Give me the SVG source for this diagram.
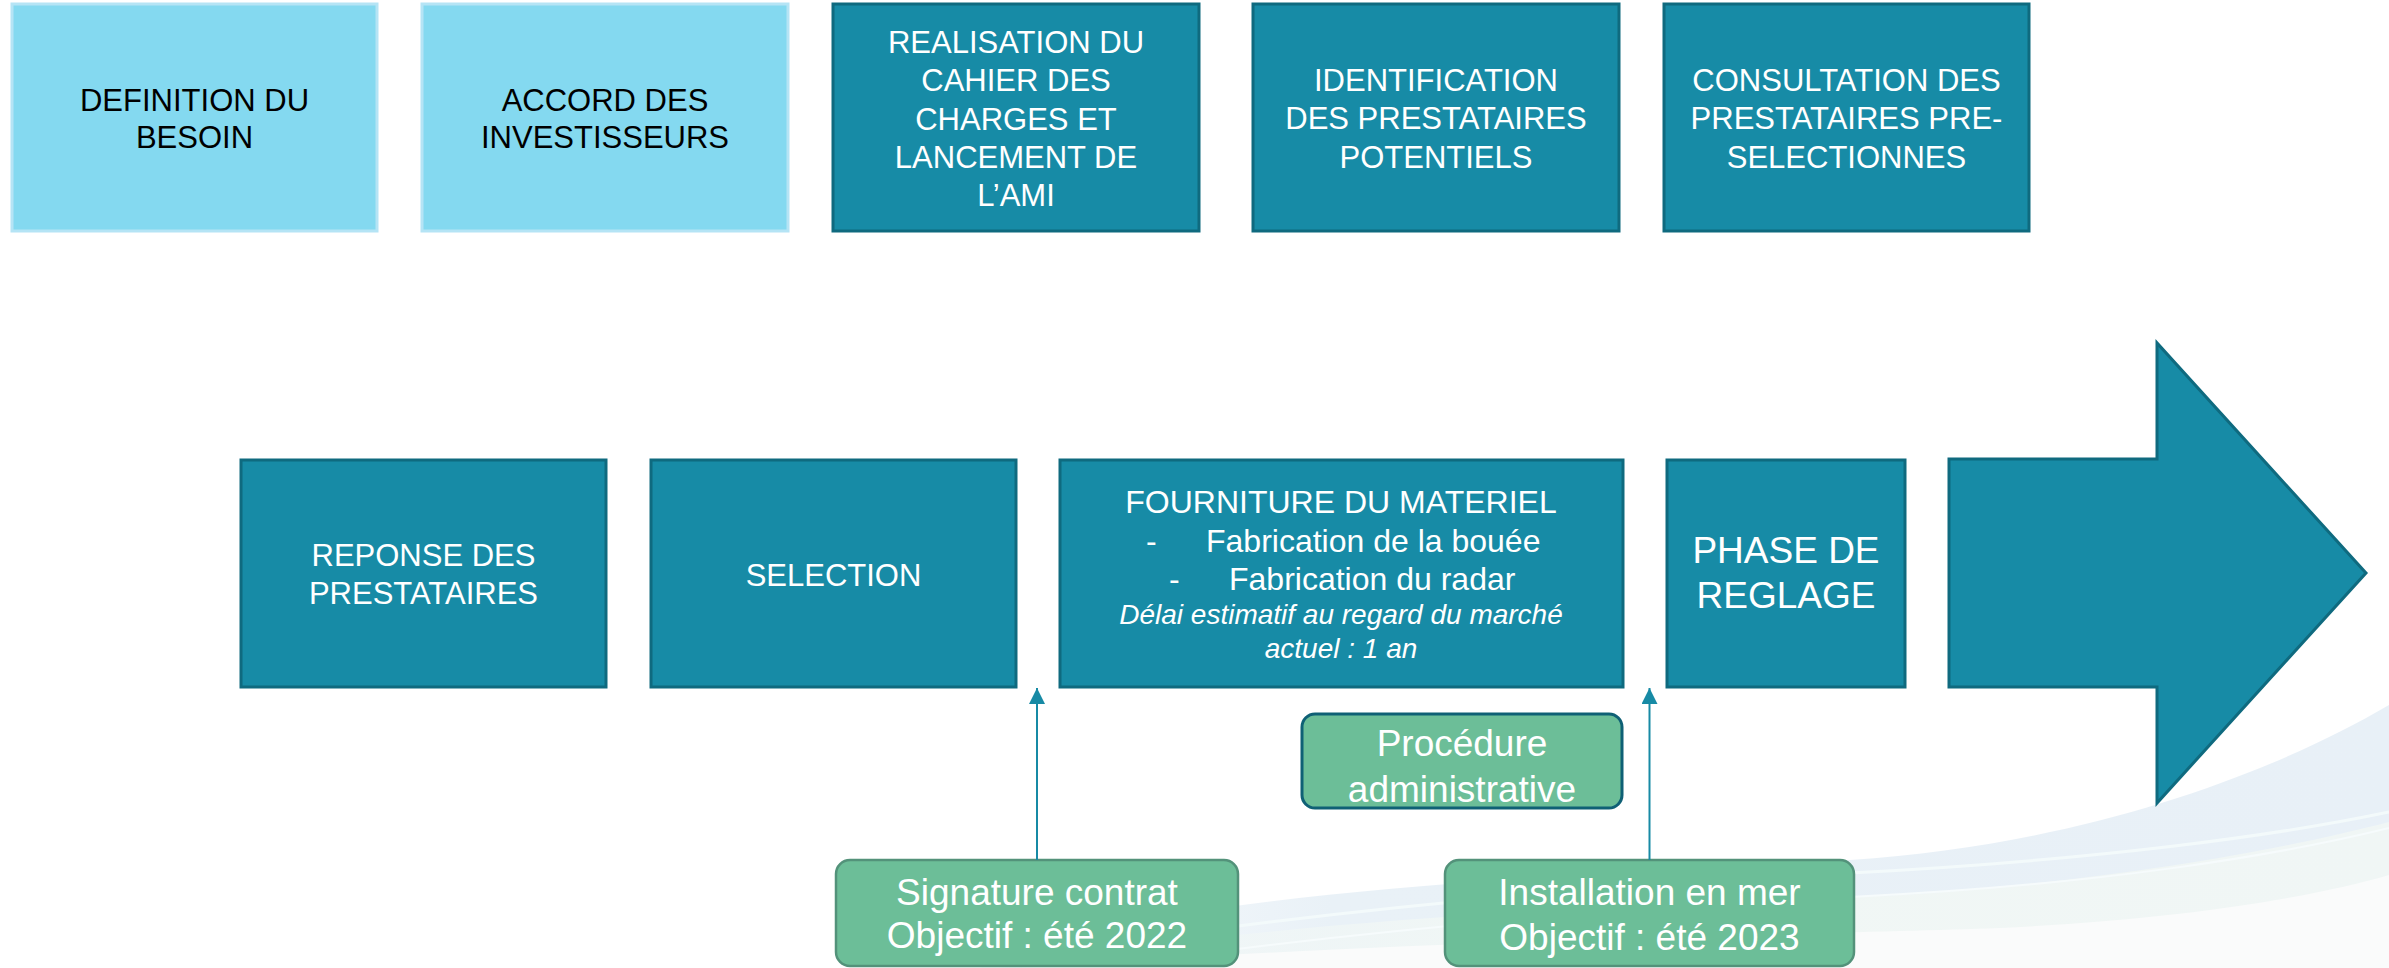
<svg xmlns="http://www.w3.org/2000/svg" width="2389" height="968" viewBox="0 0 2389 968">
  <defs>
    <linearGradient id="swooshGrad" x1="0" y1="0" x2="1" y2="0">
      <stop offset="0" stop-color="#E9F1F7" stop-opacity="0.2"/>
      <stop offset="0.25" stop-color="#E9F1F7" stop-opacity="1"/>
      <stop offset="1" stop-color="#E8F0F7"/>
    </linearGradient>
    <linearGradient id="lowGrad" x1="0" y1="0" x2="1" y2="0">
      <stop offset="0" stop-color="#F1F7F6" stop-opacity="0.3"/>
      <stop offset="0.4" stop-color="#F1F7F5"/>
      <stop offset="1" stop-color="#F0F6F5"/>
    </linearGradient>
    <marker id="arrowHead" viewBox="0 0 16 16" refX="16" refY="8" markerWidth="16" markerHeight="16" markerUnits="userSpaceOnUse" orient="auto">
      <path d="M0,0 L16,8 L0,16 z" fill="#178AA5"/>
    </marker>
    <style>
      .light { fill: #84D9F0; stroke: #B5E4F5; stroke-width: 3; }
      .dark { fill: #178BA6; stroke: #0F6A7F; stroke-width: 3; }
      .green { fill: #6CBE98; stroke: #53927A; stroke-width: 2.5; }
      .greenDark { fill: #6CBE98; stroke: #0F6075; stroke-width: 3; }
      text { font-family: "Liberation Sans", Arial, sans-serif; text-anchor: middle; }
      .tb { fill: #000000; font-size: 31px; }
      .tw { fill: #FFFFFF; font-size: 31px; }
      .tbig { fill: #FFFFFF; font-size: 37px; }
      .tf { fill: #FFFFFF; font-size: 32px; }
      .ti { fill: #FFFFFF; font-size: 28px; font-style: italic; }
      .tg { fill: #FFFFFF; font-size: 37px; }
      .conn { stroke: #178AA5; stroke-width: 2; fill: none; }
    </style>
  </defs>

  <rect x="0" y="0" width="2389" height="968" fill="#FFFFFF"/>

  <!-- background swoosh -->
  <g id="background">
    <path d="M980,968 C1120,900 1450,880 1850,860 C2080,845 2270,775 2389,705 L2389,968 Z" fill="url(#swooshGrad)"/>
    <path d="M1000,968 C1300,915 1650,905 1900,895 C2120,880 2280,850 2389,822 L2389,968 Z" fill="url(#lowGrad)"/>
    <path d="M1020,968 C1400,940 1800,935 2000,928 C2200,918 2320,895 2389,875 L2389,968 Z" fill="#FAFBFB"/>
    <path d="M1100,945 C1400,900 1700,880 1850,873 C2100,860 2280,835 2389,812" fill="none" stroke="#F3FAFB" stroke-width="3"/>
    <path d="M1150,960 C1450,920 1700,905 1850,897 C2100,885 2280,855 2389,828" fill="none" stroke="#F6FBFC" stroke-width="2"/>
  </g>

  <!-- top row -->
  <g id="definition-besoin">
    <rect class="light" x="12" y="4" width="365" height="227"/>
    <text class="tb" x="194.5" y="111">DEFINITION DU</text>
    <text class="tb" x="194.5" y="148">BESOIN</text>
  </g>
  <g id="accord-investisseurs">
    <rect class="light" x="422" y="4" width="366" height="227"/>
    <text class="tb" x="605" y="111">ACCORD DES</text>
    <text class="tb" x="605" y="148">INVESTISSEURS</text>
  </g>
  <g id="realisation-cahier">
    <rect class="dark" x="833" y="4" width="366" height="227"/>
    <text class="tw" x="1016" y="53">REALISATION DU</text>
    <text class="tw" x="1016" y="91">CAHIER DES</text>
    <text class="tw" x="1016" y="130">CHARGES ET</text>
    <text class="tw" x="1016" y="168">LANCEMENT DE</text>
    <text class="tw" x="1016" y="206">L’AMI</text>
  </g>
  <g id="identification-prestataires">
    <rect class="dark" x="1253" y="4" width="366" height="227"/>
    <text class="tw" x="1436" y="91">IDENTIFICATION</text>
    <text class="tw" x="1436" y="129">DES PRESTATAIRES</text>
    <text class="tw" x="1436" y="168">POTENTIELS</text>
  </g>
  <g id="consultation-prestataires">
    <rect class="dark" x="1664" y="4" width="365" height="227"/>
    <text class="tw" x="1846.5" y="91">CONSULTATION DES</text>
    <text class="tw" x="1846.5" y="129">PRESTATAIRES PRE-</text>
    <text class="tw" x="1846.5" y="168">SELECTIONNES</text>
  </g>

  <!-- bottom row -->
  <g id="reponse-prestataires">
    <rect class="dark" x="241" y="460" width="365" height="227"/>
    <text class="tw" x="423.5" y="566">REPONSE DES</text>
    <text class="tw" x="423.5" y="604">PRESTATAIRES</text>
  </g>
  <g id="selection">
    <rect class="dark" x="651" y="460" width="365" height="227"/>
    <text class="tw" x="833.5" y="586">SELECTION</text>
  </g>
  <g id="fourniture-materiel">
    <rect class="dark" x="1060" y="460" width="563" height="227"/>
    <text class="tf" x="1341" y="513">FOURNITURE DU MATERIEL</text>
    <text class="tf" x="1146" y="552" style="text-anchor:start">-</text>
    <text class="tf" x="1206" y="552" style="text-anchor:start">Fabrication de la bouée</text>
    <text class="tf" x="1169" y="590" style="text-anchor:start">-</text>
    <text class="tf" x="1229" y="590" style="text-anchor:start">Fabrication du radar</text>
    <text class="ti" x="1341" y="624">Délai estimatif au regard du marché</text>
    <text class="ti" x="1341" y="658">actuel : 1 an</text>
  </g>
  <g id="phase-reglage">
    <rect class="dark" x="1667" y="460" width="238" height="227"/>
    <text class="tbig" x="1786" y="563">PHASE DE</text>
    <text class="tbig" x="1786" y="608">REGLAGE</text>
  </g>
  <g id="big-arrow">
    <polygon class="dark" points="1949,459 2157,459 2157,343 2366,573 2157,803 2157,687 1949,687"/>
  </g>

  <!-- green labels -->
  <g id="procedure-administrative">
    <rect class="greenDark" x="1302" y="714" width="320" height="94" rx="13" ry="13"/>
    <text class="tg" x="1462" y="756">Procédure</text>
    <text class="tg" x="1462" y="802">administrative</text>
  </g>
  <g id="signature-contrat">
    <rect class="green" x="836" y="860" width="402" height="106" rx="14" ry="14"/>
    <text class="tg" x="1037" y="905">Signature contrat</text>
    <text class="tg" x="1037" y="948">Objectif : été 2022</text>
  </g>
  <g id="installation-mer">
    <rect class="green" x="1445" y="860" width="409" height="106" rx="14" ry="14"/>
    <text class="tg" x="1649.5" y="905">Installation en mer</text>
    <text class="tg" x="1649.5" y="950">Objectif : été 2023</text>
  </g>

  <!-- connectors -->
  <g id="connectors">
    <line class="conn" x1="1037" y1="860" x2="1037" y2="688" marker-end="url(#arrowHead)"/>
    <line class="conn" x1="1649.5" y1="860" x2="1649.5" y2="688" marker-end="url(#arrowHead)"/>
  </g>
</svg>
